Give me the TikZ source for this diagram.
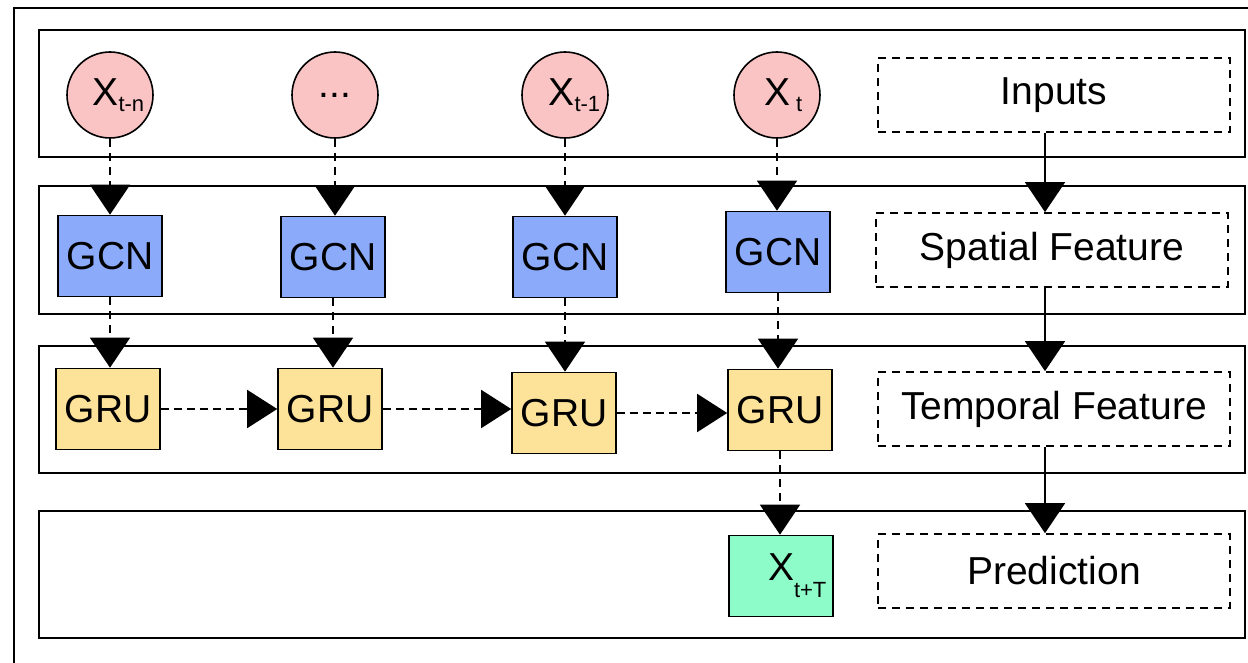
\documentclass[tikz,border=0pt]{standalone}
\usepackage{fontspec}
\setmainfont{Liberation Sans}
\usetikzlibrary{arrows.meta}
\definecolor{inpink}{RGB}{250,196,196}
\definecolor{gcnblue}{RGB}{140,170,250}
\definecolor{gruyellow}{RGB}{253,226,154}
\definecolor{predgreen}{RGB}{142,252,200}
\newcommand\lowsub[2][6pt]{\raisebox{-#1}{\fontsize{22}{22}\selectfont #2}}
\begin{document}
\begin{tikzpicture}[x=1pt,y=-1pt,
  bigfont/.style={font=\fontsize{39}{41}\selectfont},
  band/.style={draw, line width=1.9pt},
  incirc/.style={circle, draw, line width=1.6pt, fill=inpink, minimum size=86pt, inner sep=0pt, bigfont},
  unit/.style={draw, line width=1.6pt, minimum width=104pt, minimum height=81pt, inner sep=0pt, bigfont},
  gcn/.style={unit, fill=gcnblue},
  gru/.style={unit, fill=gruyellow},
  pred/.style={unit, fill=predgreen},
  tag/.style={draw, line width=1.7pt, dash pattern=on 8pt off 6pt, minimum width=352pt, minimum height=74pt, inner sep=0pt, bigfont},
  flow/.style={line width=1.7pt, dash pattern=on 8pt off 6pt, -{Triangle[width=40pt,length=30pt]}},
  hflow/.style={line width=1.7pt, dash pattern=on 8pt off 5pt, -{Triangle[width=38pt,length=30pt]}},
  stage/.style={line width=1.9pt, -{Triangle[width=40pt,length=30pt]}}
]
\useasboundingbox (0,0) rectangle (1248,663);
\fill[white] (0,0) rectangle (1248,663);

% outer frame
\draw[line width=1.9pt] (14,663) -- (14,8) -- (1248,8);

% layer bands
\draw[band] (39,30) rectangle (1245,157);
\draw[band] (39,186) rectangle (1245,314);
\draw[band] (39,346) rectangle (1245,473);
\draw[band] (39,511) rectangle (1245,638);

% inputs
\node[incirc] (c1) at (110,95) {\kern-9pt X\rlap{\lowsub{t-n}}};
\node[incirc] (c2) at (335,95) {...};
\node[incirc] (c3) at (565,95) {\kern-7pt X\rlap{\lowsub{t-1}}};
\node[incirc] (c4) at (777,95) {X\rlap{\hspace{6pt}\lowsub{t}}};

% spatial layer
\node[gcn] (g1) at (110,256) {GCN};
\node[gcn] (g2) at (333,257) {GCN};
\node[gcn] (g3) at (565,257) {GCN};
\node[gcn] (g4) at (778,252) {GCN};

% temporal layer
\node[gru] (r1) at (108,409) {GRU};
\node[gru] (r2) at (330,409) {GRU};
\node[gru] (r3) at (564,413) {GRU};
\node[gru] (r4) at (780,410) {GRU};

% prediction
\node[pred] (p) at (781,576) {\raisebox{5pt}{X}\rlap{\lowsub[12pt]{t+T}}};

% stage labels
\node[tag] (tin) at (1054,95) {Inputs};
\node[tag] (tsp) at (1052,250) {Spatial Feature};
\node[tag] (ttp) at (1054,409) {Temporal Feature};
\node[tag] (tpr) at (1054,571) {Prediction};

% data flow
\draw[flow] (c1.south) -- (c1.south |- g1.north);
\draw[flow] (c2.south) -- (c2.south |- g2.north);
\draw[flow] (c3.south) -- (c3.south |- g3.north);
\draw[flow] (c4.south) -- (c4.south |- g4.north);

\draw[flow] (g1.south) -- (g1.south |- r1.north);
\draw[flow] (g2.south) -- (g2.south |- r2.north);
\draw[flow] (g3.south) -- (g3.south |- r3.north);
\draw[flow] (g4.south) -- (g4.south |- r4.north);

\draw[hflow] (r1.east) -- (r1.east -| r2.west);
\draw[hflow] (r2.east) -- (r2.east -| r3.west);
\draw[hflow] (r3.east) -- (r3.east -| r4.west);

\draw[flow] (r4.south) -- (r4.south |- p.north);

% stage order
\draw[stage] ([xshift=-9pt]tin.south) -- ([xshift=-9pt]tin.south |- tsp.north);
\draw[stage] ([xshift=-7pt]tsp.south) -- ([xshift=-7pt]tsp.south |- ttp.north);
\draw[stage] ([xshift=-9pt]ttp.south) -- ([xshift=-9pt]ttp.south |- tpr.north);
\end{tikzpicture}
\end{document}
